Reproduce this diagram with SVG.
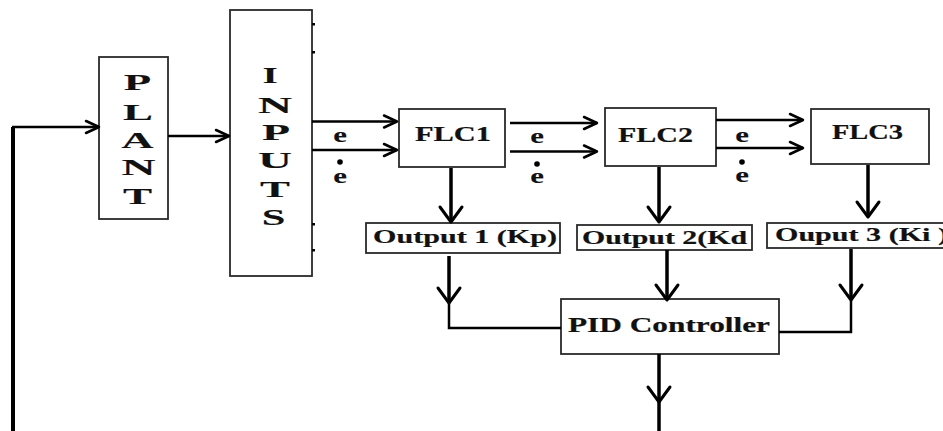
<svg xmlns="http://www.w3.org/2000/svg" width="943" height="431" viewBox="0 0 943 431">
<style>
.box{fill:#fff;stroke:#2a2a2a;stroke-width:1.8}
.t{font-family:"Liberation Serif","Times New Roman",serif;font-weight:bold;fill:#111;stroke:#111;stroke-width:0.2}
.c{text-anchor:middle;font-size:23px;stroke-width:0.1}
.e{text-anchor:middle;font-size:22px;stroke-width:0.1}
.h{fill:none;stroke:#000;stroke-width:2.5}
.v{fill:none;stroke:#000;stroke-width:3.5}
</style>
<defs>
<marker id="ah" markerUnits="userSpaceOnUse" viewBox="-2 -9 18 18" markerWidth="18" markerHeight="18" refX="13" refY="0" orient="auto">
<path d="M0,-6 L13,0 L0,6" fill="none" stroke="#000" stroke-width="2.5" stroke-linejoin="round" stroke-linecap="round"/>
</marker>
<marker id="av" markerUnits="userSpaceOnUse" viewBox="-3 -14 22 28" markerWidth="22" markerHeight="28" refX="15" refY="0" orient="auto">
<path d="M0,-11 L15,0 L0,11" fill="none" stroke="#000" stroke-width="3" stroke-linejoin="round" stroke-linecap="round"/>
</marker>
</defs>
<rect width="943" height="431" fill="#fff"/>

<g id="plant">
<rect class="box" x="99" y="57" width="69" height="162"/>
<text class="t c" transform="translate(137.5,90) scale(1.95,1)">P</text>
<text class="t c" transform="translate(138,120) scale(1.95,1)">L</text>
<text class="t c" transform="translate(137.5,148) scale(1.95,1)">A</text>
<text class="t c" transform="translate(138.5,175) scale(2.05,1)">N</text>
<text class="t c" transform="translate(137.5,204) scale(1.9,1)">T</text>
</g>

<g id="inputs">
<rect class="box" x="230" y="10" width="82" height="266"/>
<rect x="312" y="23" width="3" height="2.5" fill="#000"/>
<rect x="312" y="51" width="3" height="2.5" fill="#000"/>
<rect x="312" y="223" width="3" height="2.5" fill="#000"/>
<rect x="312" y="249" width="3" height="2.5" fill="#000"/>
<text class="t c" transform="translate(270,83) scale(1.7,1)">I</text>
<text class="t c" transform="translate(275,113) scale(2.05,1)">N</text>
<text class="t c" transform="translate(276,140) scale(2.0,1)">P</text>
<text class="t c" transform="translate(275,168) scale(2.05,1)">U</text>
<text class="t c" transform="translate(275,197) scale(1.95,1)">T</text>
<text class="t c" transform="translate(273.5,225) scale(1.85,1)">S</text>
</g>

<g id="flc1">
<rect class="box" x="399" y="109" width="106" height="58"/>
<text class="t" font-size="20" x="415" y="141" textLength="76" lengthAdjust="spacingAndGlyphs">FLC1</text>
</g>
<g id="flc2">
<rect class="box" x="605" y="108" width="111" height="58"/>
<text class="t" font-size="20" x="618" y="142" textLength="75" lengthAdjust="spacingAndGlyphs">FLC2</text>
</g>
<g id="flc3">
<rect class="box" x="811" y="109" width="118" height="55"/>
<text class="t" font-size="20" x="832" y="139" textLength="71" lengthAdjust="spacingAndGlyphs">FLC3</text>
</g>

<g id="output1">
<rect class="box" x="366" y="223" width="194" height="30"/>
<text class="t" font-size="19" x="373" y="243" textLength="184" lengthAdjust="spacingAndGlyphs">Output 1 (Kp)</text>
</g>
<g id="output2">
<rect class="box" x="577" y="225" width="175" height="25"/>
<text class="t" font-size="19" x="582" y="244" textLength="165" lengthAdjust="spacingAndGlyphs">Output 2(Kd</text>
</g>
<g id="output3">
<rect class="box" x="767" y="223" width="190" height="25"/>
<text class="t" font-size="19" x="775" y="241" textLength="173" lengthAdjust="spacingAndGlyphs">Ouput 3 (Ki )</text>
</g>

<g id="pid">
<rect class="box" x="561" y="299" width="218" height="55"/>
<text class="t" font-size="20" x="568" y="332" textLength="202" lengthAdjust="spacingAndGlyphs">PID Controller</text>
</g>

<g id="labels">
<text class="t e" transform="translate(340,142) scale(1.4,1)">e</text>
<circle cx="340" cy="162" r="2.8" fill="#000"/>
<text class="t e" transform="translate(340,183) scale(1.4,1)">e</text>
<text class="t e" transform="translate(537,143) scale(1.4,1)">e</text>
<circle cx="537" cy="164" r="2.8" fill="#000"/>
<text class="t e" transform="translate(537,183) scale(1.4,1)">e</text>
<text class="t e" transform="translate(742,142) scale(1.4,1)">e</text>
<circle cx="742" cy="162" r="2.8" fill="#000"/>
<text class="t e" transform="translate(742,182) scale(1.4,1)">e</text>
</g>

<g id="connectors">
<path d="M13,431 V127" fill="none" stroke="#000" stroke-width="4"/>
<path class="h" d="M12,127 H99" marker-end="url(#ah)"/>
<path class="h" d="M168,136 H229" marker-end="url(#ah)"/>
<path class="h" d="M312,121.5 H397" marker-end="url(#ah)"/>
<path class="h" d="M312,150 H397" marker-end="url(#ah)"/>
<path class="h" d="M510,123 H597" marker-end="url(#ah)"/>
<path class="h" d="M510,151.5 H597" marker-end="url(#ah)"/>
<path class="h" d="M716,120 H803" marker-end="url(#ah)"/>
<path class="h" d="M716,148 H803" marker-end="url(#ah)"/>
<path class="v" d="M451,168 V222" marker-end="url(#av)"/>
<path class="v" d="M659,167 V222" marker-end="url(#av)"/>
<path class="v" d="M868,165 V217" marker-end="url(#av)"/>
<path class="v" d="M449,256 V303" marker-end="url(#av)"/>
<path class="h" d="M449,301 V328 H561" stroke-width="3"/>
<path class="v" d="M667,250 V300" marker-end="url(#av)"/>
<path class="v" d="M851,249 V300" marker-end="url(#av)"/>
<path class="h" d="M851,298 V332 H779" stroke-width="3"/>
<path class="v" d="M659,354 V402" marker-end="url(#av)"/>
<path class="v" d="M659,400 V431"/>
</g>
</svg>
